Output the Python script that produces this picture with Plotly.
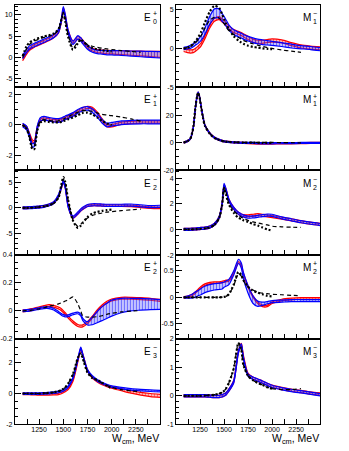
import plotly.graph_objects as go

# ---------------- data ----------------
W = [1080, 1120, 1150, 1180, 1200, 1230, 1260, 1300, 1350, 1400, 1450, 1480, 1500,
     1520, 1550, 1600, 1650, 1680, 1700, 1750, 1800, 1850, 1900, 1950, 2000,
     2100, 2200, 2300, 2400, 2500]
W_DASH = W[:28]
W_DOT = W[:25]
W_M1P = [1080, 1120, 1150, 1180, 1200, 1215, 1230, 1245, 1260, 1280, 1300, 1350, 1400,
         1450, 1500, 1600, 1700, 1800, 1900, 2000, 2100, 2200, 2300, 2400, 2500]
W_M1P_DASH = W_M1P[:23]
W_M1P_DOT = W_M1P[:20]
X_TICKS = [1250, 1500, 1750, 2000, 2250]

# E0+
E0p_blue = [0.1, 1.5, 2.3, 2.7, 2.9, 3.2, 3.5, 3.9, 4.4, 5.0, 6.2, 8.8, 11.5, 9.8, 6.0, 3.4, 4.7, 4.2, 3.6, 2.3,
            1.6, 1.3, 1.2, 1.1, 1.1, 1.0, 0.9, 0.8, 0.7, 0.6]
E0p_blue_err = [0.4] * 20 + [0.4, 0.4, 0.45, 0.5, 0.5, 0.55, 0.6, 0.65, 0.7, 0.75]
E0p_red = [-0.5, 1.0, 1.9, 2.4, 2.7, 3.0, 3.3, 3.7, 4.2, 4.9, 6.0, 8.6, 11.3, 9.7, 6.1, 3.6, 4.6, 4.3, 3.8, 2.5,
           1.8, 1.5, 1.35, 1.25, 1.2, 1.1, 1.0, 0.9, 0.8, 0.7]
E0p_red_err = [0.3] * 20 + [0.3, 0.35, 0.35, 0.4, 0.4, 0.45, 0.5, 0.55, 0.6, 0.7]
E0p_dash = [0.0, 2.0, 3.0, 3.5, 3.8, 4.1, 4.4, 4.7, 5.0, 5.4, 6.4, 8.9, 10.6, 9.0, 5.2, 2.2, 3.6, 4.0, 3.8, 3.0,
            2.6, 2.35, 2.15, 2.0, 1.85, 1.6, 1.4, 1.2]
E0p_dot = [0.3, 2.6, 3.5, 3.9, 4.1, 4.4, 4.6, 4.9, 5.2, 5.6, 6.6, 8.8, 10.3, 8.5, 4.8, 1.8, 3.3, 4.2, 3.9, 2.8,
           2.2, 1.9, 1.7, 1.5, 1.4]
E0p_ticks = [-5, 0, 5, 10]

# M1-
M1m_blue = [0.0, 0.1, 0.2, 0.4, 0.6, 0.9, 1.3, 2.2, 3.6, 4.5, 4.5, 4.0, 3.7, 3.3, 2.7, 2.1, 1.8, 1.65, 1.5, 1.25,
            1.05, 0.9, 0.8, 0.72, 0.65, 0.5, 0.3, 0.15, 0.05, -0.1]
M1m_blue_err = [0.15, 0.15, 0.2, 0.2, 0.2, 0.25, 0.3, 0.4, 0.5, 0.6, 0.6, 0.5, 0.45, 0.4, 0.35, 0.3, 0.3, 0.3,
                0.3, 0.3, 0.3, 0.3, 0.3, 0.28, 0.25, 0.25, 0.25, 0.2, 0.2, 0.2]
M1m_red = [-0.2, -0.35, -0.4, -0.35, -0.2, 0.1, 0.5, 1.4, 2.8, 3.7, 3.9, 3.6, 3.4, 3.1, 2.7, 2.25, 2.0, 1.85, 1.7,
           1.35, 1.0, 0.85, 0.85, 0.95, 1.02, 0.9, 0.55, 0.25, 0.1, 0.0]
M1m_red_err = [0.2] * 30
M1m_dash = [0.0, 0.1, 0.2, 0.5, 0.7, 1.1, 1.6, 2.6, 3.6, 4.0, 3.9, 3.5, 3.2, 2.8, 2.3, 1.8, 1.4, 1.2, 1.05, 0.8,
            0.6, 0.42, 0.25, 0.12, 0.0, -0.2, -0.35, -0.5]
M1m_dot = [0.0, 0.1, 0.3, 0.6, 0.9, 1.4, 2.1, 3.3, 4.7, 5.5, 5.2, 4.4, 3.8, 3.2, 2.5, 1.6, 1.0, 0.75, 0.6, 0.35,
           0.2, 0.1, 0.0, -0.05, -0.1]
M1m_ticks = [-5, 0, 5]

# E1+
E1p_blue = [0.0, -0.2, -0.7, -1.35, -1.3, -0.2, 0.35, 0.45, 0.38, 0.32, 0.3, 0.35, 0.42, 0.48, 0.55, 0.7, 0.9,
            1.0, 1.05, 1.1, 0.95, 0.65, 0.25, 0.0, 0.05, 0.15, 0.18, 0.2, 0.2, 0.2]
E1p_blue_err = [0.12] * 30
E1p_red = [0.0, -0.15, -0.6, -1.05, -1.1, -0.2, 0.3, 0.4, 0.35, 0.3, 0.28, 0.33, 0.4, 0.45, 0.55, 0.7, 0.9, 1.0,
           1.08, 1.17, 1.1, 0.8, 0.35, -0.05, -0.05, 0.12, 0.17, 0.2, 0.2, 0.2]
E1p_red_err = [0.07] * 30
E1p_dash = [0.0, -0.2, -0.75, -1.5, -1.4, -0.3, 0.25, 0.35, 0.3, 0.25, 0.28, 0.35, 0.4, 0.45, 0.55, 0.7, 0.85,
            0.92, 0.95, 0.95, 0.9, 0.8, 0.7, 0.66, 0.62, 0.52, 0.4, 0.26]
E1p_dot = [0.0, -0.25, -0.8, -1.6, -1.6, -0.4, 0.15, 0.25, 0.2, 0.18, 0.18, 0.2, 0.25, 0.3, 0.38, 0.5, 0.65,
           0.75, 0.8, 0.82, 0.7, 0.5, 0.28, 0.1, 0.0]
E1p_ticks = [-2, 0, 2]

# M1+
M1p_blue = [0.2, 1.2, 3.0, 11, 24, 32, 36.7, 33.5, 27, 19, 13, 7.0, 3.8, 2.2, 1.0, 0.3, 0.0, -0.1, -0.3, -0.3,
            -0.25, -0.2, -0.1, 0.0, 0.0]
M1p_red = [0.2, 1.2, 3.0, 11, 24, 32, 36.5, 33.3, 27, 19, 13, 7.0, 3.8, 2.2, 1.0, 0.4, 0.0, -0.3, -0.5, -0.5,
           -0.4, -0.3, -0.2, -0.1, 0.0]
M1p_err = [0.4] * 25
M1p_dash = [0.2, 1.2, 3.0, 11, 24, 32, 36.8, 33.5, 27, 19, 13, 7.0, 3.8, 2.2, 1.2, 0.5, 0.3, 0.3, 0.3, 0.3, 0.2,
            0.1, 0.0]
M1p_dot = [0.2, 1.3, 3.2, 11.5, 24.5, 32, 36.5, 33, 26.5, 18.5, 12.5, 6.7, 3.6, 2.0, 1.0, 0.4, 0.2, 0.1, 0.0, 0.0]
M1p_ticks = [-20, 0, 20]

# E2-
E2m_blue = [0.0, 0.0, 0.02, 0.05, 0.08, 0.12, 0.18, 0.3, 0.55, 1.0, 2.4, 4.0, 5.1, 4.0, 0.3, -1.8, -1.0, -0.4,
            -0.1, 0.45, 0.6, 0.6, 0.55, 0.5, 0.5, 0.5, 0.55, 0.4, 0.25, 0.3]
E2m_blue_err = [0.2] * 30
E2m_red = [0.0, 0.0, 0.02, 0.05, 0.08, 0.12, 0.18, 0.3, 0.55, 1.0, 2.3, 3.9, 5.0, 4.0, 0.4, -1.9, -1.1, -0.5,
           -0.2, 0.4, 0.55, 0.55, 0.5, 0.45, 0.45, 0.45, 0.4, 0.2, 0.05, 0.0]
E2m_red_err = [0.15] * 30
E2m_dash = [0.0, 0.0, 0.0, 0.05, 0.08, 0.12, 0.18, 0.3, 0.5, 0.9, 2.0, 4.2, 5.6, 4.8, 1.5, -2.4, -3.6, -3.2,
            -2.8, -2.0, -1.5, -1.2, -1.0, -0.85, -0.75, -0.55, -0.4, -0.25]
E2m_dot = [0.0, 0.0, 0.0, 0.05, 0.08, 0.12, 0.18, 0.3, 0.5, 0.9, 2.0, 4.5, 6.0, 5.0, 1.5, -2.5, -3.9, -3.5,
           -3.0, -1.8, -1.1, -0.8, -0.6, -0.45, -0.35]
E2m_ticks = [-5, 0, 5]

# M2-
M2m_blue = [0.0, 0.0, 0.01, 0.02, 0.03, 0.05, 0.07, 0.1, 0.18, 0.4, 0.95, 2.0, 3.5, 3.1, 2.3, 1.65, 1.25, 1.12,
            1.05, 0.95, 0.97, 1.02, 1.08, 1.12, 1.1, 0.9, 0.75, 0.6, 0.48, 0.38]
M2m_red = [0.0, 0.0, 0.01, 0.02, 0.03, 0.05, 0.07, 0.1, 0.18, 0.4, 0.95, 2.0, 3.4, 3.1, 2.3, 1.65, 1.25, 1.12,
           1.08, 1.05, 1.1, 1.15, 1.1, 1.05, 1.0, 0.88, 0.75, 0.6, 0.48, 0.4]
M2m_err = [0.08] * 30
M2m_dash = [0.0, 0.0, 0.0, 0.01, 0.02, 0.03, 0.05, 0.08, 0.15, 0.35, 0.9, 1.9, 3.3, 2.9, 2.0, 1.45, 1.1, 0.95,
            0.85, 0.7, 0.58, 0.5, 0.42, 0.35, 0.25, 0.2, 0.17, 0.15]
M2m_dot = [0.0, 0.0, 0.0, 0.01, 0.02, 0.03, 0.05, 0.08, 0.15, 0.35, 0.9, 1.9, 3.2, 2.7, 1.95, 1.3, 0.9, 0.8,
           0.72, 0.58, 0.42, 0.3, 0.15, 0.0, -0.08]
M2m_ticks = [-2, 0, 2, 4]

# E2+
E2p_red = [0.0, 0.002, 0.005, 0.01, 0.013, 0.018, 0.024, 0.03, 0.037, 0.033, 0.02, 0.008, -0.005, -0.02, -0.045,
           -0.08, -0.105, -0.11, -0.108, -0.085, -0.045, 0.0, 0.035, 0.062, 0.078, 0.09, 0.09, 0.087, 0.083,
           0.075]
E2p_red_err = [0.007] * 30
E2p_blue = [0.0, 0.002, 0.004, 0.007, 0.01, 0.014, 0.018, 0.022, 0.022, 0.012, -0.01, -0.025, -0.033, -0.037,
            -0.035, -0.022, -0.015, -0.03, -0.06, -0.09, -0.072, -0.045, -0.02, 0.0, 0.02, 0.038, 0.045, 0.047,
            0.047, 0.045]
E2p_blue_err = [0.006] * 17 + [0.007, 0.008, 0.012, 0.028, 0.04, 0.05, 0.055, 0.058, 0.052, 0.045, 0.042,
                               0.038, 0.035]
E2p_dash = [0.0, 0.001, 0.003, 0.006, 0.008, 0.012, 0.016, 0.022, 0.033, 0.04, 0.05, 0.058, 0.064, 0.07, 0.08,
            0.1, 0.05, 0.0, -0.035, -0.045, -0.045, -0.042, -0.035, -0.025, -0.018, -0.008, -0.002, 0.002]
E2p_ticks = [-0.2, 0, 0.2, 0.4]

# M2+
M2p_red = [0.0, 0.01, 0.03, 0.06, 0.09, 0.14, 0.19, 0.24, 0.27, 0.28, 0.28, 0.29, 0.3, 0.31, 0.32, 0.46, 0.66,
           0.6, 0.45, 0.2, 0.02, -0.1, -0.16, -0.16, -0.1, -0.05, -0.03, -0.02, -0.02, -0.02]
M2p_red_err = [0.015] * 30
M2p_blue = [0.0, 0.005, 0.015, 0.035, 0.05, 0.08, 0.11, 0.15, 0.18, 0.2, 0.21, 0.22, 0.24, 0.26, 0.29, 0.46,
            0.68, 0.6, 0.42, 0.15, -0.04, -0.12, -0.12, -0.1, -0.08, -0.07, -0.06, -0.06, -0.06, -0.06]
M2p_blue_err = [0.01, 0.02, 0.03, 0.04, 0.05, 0.05, 0.06, 0.06, 0.06, 0.06, 0.06, 0.06, 0.05, 0.05, 0.05, 0.04,
                0.04, 0.05, 0.06, 0.07, 0.07, 0.05, 0.03, 0.02, 0.02, 0.02, 0.02, 0.02, 0.02, 0.02]
M2p_dash = [0.0, 0.0, 0.0, 0.0, 0.0, 0.0, 0.0, 0.0, 0.0, 0.0, 0.0, 0.005, 0.01, 0.02, 0.06, 0.22, 0.45, 0.4,
            0.32, 0.2, 0.14, 0.1, 0.08, 0.07, 0.06, 0.05, 0.04, 0.03]
M2p_dot = [0.0, 0.0, 0.0, 0.0, 0.0, 0.0, 0.0, 0.0, 0.0, 0.0, 0.0, 0.005, 0.01, 0.02, 0.06, 0.24, 0.48, 0.42,
           0.33, 0.2, 0.13, 0.09, 0.06, 0.03, 0.02]
M2p_ticks = [-0.5, 0, 0.5]

# E3-
E3m_blue = [0.0, 0.0, 0.0, 0.0, 0.0, 0.0, 0.0, 0.01, 0.02, 0.05, 0.1, 0.15, 0.2, 0.27, 0.45, 1.0, 2.2, 2.95,
            2.55, 1.5, 1.1, 0.85, 0.68, 0.55, 0.45, 0.35, 0.27, 0.22, 0.18, 0.15]
E3m_blue_err = [0.05] * 30
E3m_red = [-0.02, -0.03, -0.03, -0.04, -0.04, -0.05, -0.05, -0.05, -0.05, -0.04, -0.02, 0.03, 0.1, 0.17, 0.3,
           0.85, 2.1, 2.9, 2.55, 1.5, 1.05, 0.8, 0.62, 0.5, 0.4, 0.25, 0.1, -0.02, -0.1, -0.15]
E3m_red_err = [0.05] * 24 + [0.06, 0.07, 0.08, 0.09, 0.1, 0.1]
E3m_dash = [0.0, 0.0, 0.0, 0.0, 0.0, 0.0, 0.0, 0.02, 0.04, 0.08, 0.15, 0.22, 0.3, 0.4, 0.65, 1.25, 2.3, 2.65,
            2.35, 1.4, 1.05, 0.85, 0.68, 0.52, 0.4, 0.25, 0.17, 0.12]
E3m_dot = [0.0, 0.0, 0.0, 0.0, 0.0, 0.0, 0.0, 0.02, 0.04, 0.08, 0.15, 0.22, 0.3, 0.4, 0.65, 1.25, 2.3, 2.6,
           2.3, 1.35, 1.0, 0.88, 0.7, 0.5, 0.35]
E3m_ticks = [-2, 0, 2]

# M3-
M3m_blue = [0.0, 0.0, 0.0, 0.0, 0.0, 0.0, 0.0, 0.0, -0.01, -0.02, -0.02, 0.0, 0.03, 0.07, 0.2, 0.48, 1.55,
            1.78, 1.35, 0.72, 0.62, 0.55, 0.48, 0.4, 0.33, 0.25, 0.19, 0.14, 0.09, 0.04]
M3m_red = [0.0, 0.0, 0.0, 0.0, 0.0, 0.0, 0.0, 0.0, -0.01, -0.02, -0.02, 0.0, 0.03, 0.07, 0.2, 0.5, 1.55, 1.8,
           1.4, 0.75, 0.62, 0.55, 0.48, 0.4, 0.34, 0.26, 0.2, 0.15, 0.1, 0.06]
M3m_err = [0.04] * 30
M3m_dash = [0.0, 0.0, 0.0, 0.0, 0.0, 0.0, 0.0, 0.01, 0.02, 0.04, 0.08, 0.12, 0.17, 0.25, 0.45, 0.95, 1.85, 1.6,
            1.1, 0.7, 0.55, 0.45, 0.38, 0.3, 0.25, 0.22, 0.22, 0.25]
M3m_dot = [0.0, 0.0, 0.0, 0.0, 0.0, 0.0, 0.0, 0.01, 0.02, 0.04, 0.08, 0.12, 0.17, 0.25, 0.45, 0.95, 1.85, 1.6,
           1.1, 0.7, 0.55, 0.45, 0.38, 0.3, 0.25]
M3m_ticks = [-1, 0, 1, 2]

# ---------------- layout helpers ----------------
FW, FH = 349, 451
COL_X = [(13, 159), (175, 320)]
ROW_Y = [(1, 84.5), (84.5, 169), (169, 255), (255, 340), (340, 427)]

panels = [
    dict(lbl=("E", "0", "+"), r=0, c=0, rng=[-7, 12.3], ticks=E0p_ticks, minor=1,
         x=W, red=E0p_red, rede=E0p_red_err, blue=E0p_blue, bluee=E0p_blue_err,
         xd=W_DASH, dash=E0p_dash, xt=W_DOT, dot=E0p_dot),
    dict(lbl=("M", "1", "\u2212"), r=0, c=1, rng=[-5, 5.6], ticks=M1m_ticks, minor=1,
         x=W, red=M1m_red, rede=M1m_red_err, blue=M1m_blue, bluee=M1m_blue_err,
         xd=W_DASH, dash=M1m_dash, xt=W_DOT, dot=M1m_dot),
    dict(lbl=("E", "1", "+"), r=1, c=0, rng=[-3, 2.5], ticks=E1p_ticks, minor=0.5,
         x=W, red=E1p_red, rede=E1p_red_err, blue=E1p_blue, bluee=E1p_blue_err,
         xd=W_DASH, dash=E1p_dash, xt=W_DOT, dot=E1p_dot),
    dict(lbl=("M", "1", "+"), r=1, c=1, rng=[-20, 40.4], ticks=M1p_ticks, minor=5,
         x=W_M1P, red=M1p_red, rede=M1p_err, blue=M1p_blue, bluee=M1p_err,
         xd=W_M1P_DASH, dash=M1p_dash, xt=W_M1P_DOT, dot=M1p_dot),
    dict(lbl=("E", "2", "\u2212"), r=2, c=0, rng=[-9.2, 7.3], ticks=E2m_ticks, minor=1,
         x=W, red=E2m_red, rede=E2m_red_err, blue=E2m_blue, bluee=E2m_blue_err,
         xd=W_DASH, dash=E2m_dash, xt=W_DOT, dot=E2m_dot),
    dict(lbl=("M", "2", "\u2212"), r=2, c=1, rng=[-2, 4.6], ticks=M2m_ticks, minor=0.5,
         x=W, red=M2m_red, rede=M2m_err, blue=M2m_blue, bluee=M2m_err,
         xd=W_DASH, dash=M2m_dash, xt=W_DOT, dot=M2m_dot),
    dict(lbl=("E", "2", "+"), r=3, c=0, rng=[-0.2, 0.4], ticks=E2p_ticks, minor=0.05,
         x=W, red=E2p_red, rede=E2p_red_err, blue=E2p_blue, bluee=E2p_blue_err,
         xd=W_DASH, dash=E2p_dash, xt=None, dot=None),
    dict(lbl=("M", "2", "+"), r=3, c=1, rng=[-0.78, 0.8], ticks=M2p_ticks, minor=0.1,
         x=W, red=M2p_red, rede=M2p_red_err, blue=M2p_blue, bluee=M2p_blue_err,
         xd=W_DASH, dash=M2p_dash, xt=W_DOT, dot=M2p_dot),
    dict(lbl=("E", "3", "\u2212"), r=4, c=0, rng=[-2, 3.55], ticks=E3m_ticks, minor=0.5,
         x=W, red=E3m_red, rede=E3m_red_err, blue=E3m_blue, bluee=E3m_blue_err,
         xd=W_DASH, dash=E3m_dash, xt=W_DOT, dot=E3m_dot),
    dict(lbl=("M", "3", "\u2212"), r=4, c=1, rng=[-1, 2.0], ticks=M3m_ticks, minor=0.2,
         x=W, red=M3m_red, rede=M3m_err, blue=M3m_blue, bluee=M3m_err,
         xd=W_DASH, dash=M3m_dash, xt=W_DOT, dot=M3m_dot),
]

FONT = "Liberation Sans, Arial, sans-serif"
fig = go.Figure()
annotations = []


def px(x):
    return x / FW


def py(y):
    return 1 - y / FH


def add_band(xa, ya, x, c, e, color, bg):
    up = [a + b for a, b in zip(c, e)]
    lo = [a - b for a, b in zip(c, e)]
    ln = dict(color=color, width=1.2, shape="spline", smoothing=0.7)
    fig.add_trace(go.Scatter(x=x, y=lo, mode="lines", line=ln, xaxis=xa, yaxis=ya,
                             showlegend=False, hoverinfo="skip"))
    fig.add_trace(go.Scatter(x=x, y=up, mode="lines", line=ln, xaxis=xa, yaxis=ya,
                             fill="tonexty", fillcolor=bg,
                             fillpattern=dict(shape="|", fgcolor=color, bgcolor=bg, size=3, solidity=0.45),
                             showlegend=False, hoverinfo="skip"))


for k, p in enumerate(panels):
    n = k + 1
    xa, ya = f"x{n}", f"y{n}"
    xk, yk = ("xaxis" if n == 1 else f"xaxis{n}"), ("yaxis" if n == 1 else f"yaxis{n}")
    x0, x1 = COL_X[p["c"]]
    y0, y1 = ROW_Y[p["r"]]
    bottom = p["r"] == 4

    add_band(xa, ya, p["x"], p["red"], p["rede"], "rgb(255,0,0)", "rgba(255,120,120,0.35)")
    add_band(xa, ya, p["x"], p["blue"], p["bluee"], "rgb(0,0,255)", "rgba(120,120,255,0.30)")
    fig.add_trace(go.Scatter(x=p["xd"], y=p["dash"], mode="lines", xaxis=xa, yaxis=ya,
                             line=dict(color="black", width=1.2, dash="4px,3px", shape="spline", smoothing=0.7),
                             showlegend=False, hoverinfo="skip"))
    if p["dot"] is not None:
        fig.add_trace(go.Scatter(x=p["xt"], y=p["dot"], mode="lines", xaxis=xa, yaxis=ya,
                                 line=dict(color="black", width=2.2, dash="2px,2px", shape="spline", smoothing=0.7),
                                 showlegend=False, hoverinfo="skip"))

    fig.layout[xk] = dict(
        domain=[px(x0), px(x1)], anchor=ya, range=[1000, 2500],
        tickmode="array", tickvals=X_TICKS, ticktext=[str(v) for v in X_TICKS],
        showticklabels=bottom, ticks="inside", ticklen=5, tickcolor="black",
        ticklabelstandoff=-2,
        minor=dict(tickmode="linear", tick0=1000, dtick=125, ticks="inside", ticklen=5, tickcolor="black"),
        showline=True, mirror=True, linecolor="black", linewidth=1,
        showgrid=False, zeroline=False, tickfont=dict(family=FONT, size=7, color="black"),
    )
    fig.layout[yk] = dict(
        domain=[py(y1), py(y0)], anchor=xa, range=p["rng"],
        tickmode="array", tickvals=p["ticks"], ticktext=[f"{v:g}" for v in p["ticks"]],
        ticks="inside", ticklen=6, tickcolor="black",
        minor=dict(tickmode="linear", tick0=0, dtick=p["minor"], ticks="inside", ticklen=3, tickcolor="black"),
        showline=True, mirror=True, linecolor="black", linewidth=1,
        showgrid=False, zeroline=False, tickfont=dict(family=FONT, size=7, color="black"),
    )

    # panel label: letter with stacked sub/superscript
    L, sub, sup = p["lbl"]
    xr = x1 - 8
    annotations.append(dict(x=px(xr), y=py(y0 + 13), xref="paper", yref="paper", text=L,
                            showarrow=False, xanchor="right", yanchor="middle", borderpad=0,
                            font=dict(family=FONT, size=10, color="black")))
    annotations.append(dict(x=px(xr), y=py(y0 + 9), xref="paper", yref="paper", text=sup,
                            showarrow=False, xanchor="left", yanchor="middle", borderpad=0,
                            font=dict(family=FONT, size=7, color="black")))
    annotations.append(dict(x=px(xr), y=py(y0 + 17), xref="paper", yref="paper", text=sub,
                            showarrow=False, xanchor="left", yanchor="middle", borderpad=0,
                            font=dict(family=FONT, size=7, color="black")))
    if bottom:
        annotations.append(dict(x=px(x1), y=py(441.5), xref="paper", yref="paper",
                                text="W<sub>cm</sub>, MeV", showarrow=False,
                                xanchor="right", yanchor="middle", borderpad=0,
                                font=dict(family=FONT, size=10.5, color="black")))

fig.update_layout(width=FW, height=FH, margin=dict(l=0, r=0, t=0, b=0),
                  paper_bgcolor="white", plot_bgcolor="white", showlegend=False,
                  annotations=annotations)

fig.write_html("out.html", config={"displayModeBar": False},
               post_script="document.body.style.margin='0';")
